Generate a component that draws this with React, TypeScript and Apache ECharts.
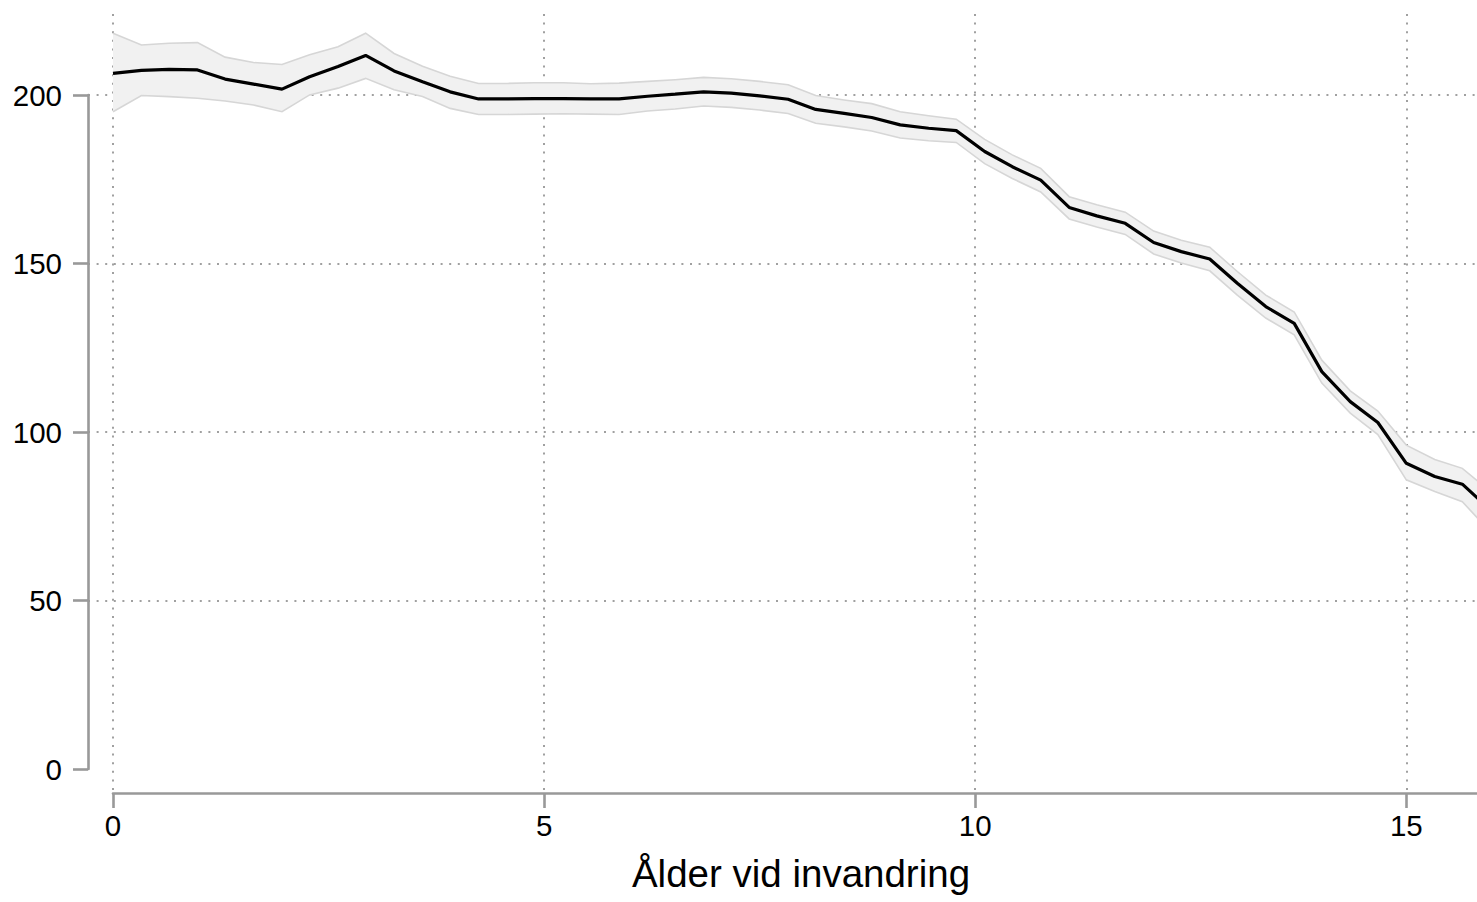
import React, { useEffect, useRef } from "react";
import * as echarts from "echarts";

// Age at immigration (years) for each estimate
const ages = [
  0, 0.33, 0.65, 0.98, 1.3, 1.63, 1.96, 2.28, 2.61, 2.93,
  3.26, 3.59, 3.91, 4.24, 4.57, 4.89, 5.22, 5.54, 5.87, 6.2,
  6.52, 6.85, 7.17, 7.5, 7.83, 8.15, 8.48, 8.8, 9.13, 9.46,
  9.78, 10.11, 10.43, 10.76, 11.09, 11.41, 11.74, 12.07, 12.39, 12.72,
  13.04, 13.37, 13.7, 14.02, 14.35, 14.67, 15.0, 15.33, 15.65, 15.98,
];

// Point estimate
const estimate = [
  206.4, 207.3, 207.6, 207.4, 204.7, 203.2, 201.7, 205.4, 208.4, 211.7,
  207.1, 203.9, 200.9, 198.8, 198.8, 198.9, 198.9, 198.8, 198.8, 199.6,
  200.2, 200.9, 200.5, 199.7, 198.7, 195.7, 194.5, 193.3, 191.1, 190.1,
  189.4, 183.2, 178.7, 174.7, 166.6, 164.1, 161.9, 156.2, 153.5, 151.3,
  144.1, 137.2, 132.2, 117.9, 109.0, 102.8, 90.7, 86.8, 84.5, 76.8,
];

// Upper confidence bound
const upperCI = [
  218.3, 214.8, 215.3, 215.5, 211.2, 209.6, 209.0, 211.9, 214.3, 218.3,
  212.3, 208.5, 205.5, 203.4, 203.4, 203.6, 203.6, 203.3, 203.5, 204.0,
  204.5, 205.2, 204.8, 204.0, 203.0, 199.8, 198.5, 197.4, 195.0, 193.8,
  192.8, 186.8, 182.2, 178.2, 169.8, 167.4, 165.2, 159.6, 156.9, 154.8,
  147.6, 140.6, 135.6, 121.3, 112.2, 106.2, 96.1, 91.8, 89.2, 82.2,
];

// Lower confidence bound
const lowerCI = [
  195.0, 199.8, 199.5, 199.0, 198.2, 197.0, 195.0, 200.0, 202.0, 204.9,
  201.5, 199.5, 196.0, 194.2, 194.2, 194.3, 194.4, 194.3, 194.2, 195.2,
  195.8, 196.7, 196.3, 195.5, 194.5, 191.6, 190.5, 189.3, 187.2, 186.4,
  185.9, 179.6, 175.2, 171.2, 163.2, 160.8, 158.6, 152.8, 150.1, 147.8,
  140.6, 133.8, 128.8, 114.5, 105.6, 99.2, 85.8, 82.3, 79.3, 70.2,
];

const xTitle = "Ålder vid invandring";

const FONT = "'Liberation Sans', Arial, Helvetica, sans-serif";
const AXIS_COLOR = "#999999";
const GRID_COLOR = "#a0a0a0";
const BAND_FILL = "#f1f1f1";
const BAND_EDGE = "#d6d6d6";

export default function App() {
  const ref = useRef<HTMLDivElement>(null);

  useEffect(() => {
    if (!ref.current) return;
    const chart = echarts.init(ref.current, null, { renderer: "svg" });

    const gridLine = {
      show: true,
      lineStyle: { color: GRID_COLOR, width: 2, type: [2, 6.6] as number[] },
    };

    const bandData = ages.map((a, i) => [a, lowerCI[i], upperCI[i]]);

    const renderBand = (params: any, api: any) => {
      if (params.dataIndex !== 0) return null;
      const upperPts = bandData.map((d) => api.coord([d[0], d[2]]));
      const lowerPts = bandData.map((d) => api.coord([d[0], d[1]]));
      const polygonPts = upperPts.concat(lowerPts.slice().reverse());
      return {
        type: "group",
        children: [
          {
            type: "polygon",
            shape: { points: polygonPts },
            style: { fill: BAND_FILL, stroke: "none" },
          },
          {
            type: "polyline",
            shape: { points: upperPts },
            style: { stroke: BAND_EDGE, lineWidth: 1.6, fill: "none" },
          },
          {
            type: "polyline",
            shape: { points: lowerPts },
            style: { stroke: BAND_EDGE, lineWidth: 1.6, fill: "none" },
          },
        ],
      };
    };

    const option: any = {
      animation: false,
      backgroundColor: "#ffffff",
      textStyle: { fontFamily: FONT },
      grid: [
        { left: 88, right: 0, top: 14, bottom: 109 },
        { left: 88, right: 0, top: 95, bottom: 133 },
        { left: 113, right: 0, top: 14, bottom: 109 },
      ],
      xAxis: [
        { gridIndex: 0, type: "value", min: -0.29, max: 15.82, show: false },
        { gridIndex: 1, type: "value", min: 0, max: 1, show: false },
        {
          gridIndex: 2,
          type: "value",
          min: 0,
          max: 15.82,
          interval: 5,
          axisLine: { show: true, onZero: false, lineStyle: { color: AXIS_COLOR, width: 2.6 } },
          axisTick: { show: true, length: 15, lineStyle: { color: AXIS_COLOR, width: 2.6 } },
          axisLabel: {
            show: true,
            margin: 17,
            color: "#000",
            fontSize: 29.5,
            fontFamily: FONT,
            showMaxLabel: false,
          },
          splitLine: { ...gridLine, showMinLine: true, showMaxLine: false },
          name: xTitle,
          nameLocation: "middle",
          nameGap: 61,
          nameTextStyle: { color: "#000", fontSize: 38.5, fontFamily: FONT, padding: [0, 0, 0, 12] },
        },
      ],
      yAxis: [
        { gridIndex: 0, type: "value", min: -7.12, max: 224, show: false },
        {
          gridIndex: 1,
          type: "value",
          min: 0,
          max: 200,
          interval: 50,
          axisLine: { show: true, onZero: false, lineStyle: { color: AXIS_COLOR, width: 2.6 } },
          axisTick: { show: true, length: 15, lineStyle: { color: AXIS_COLOR, width: 2.6 } },
          axisLabel: { show: true, margin: 26, color: "#000", fontSize: 29.5, fontFamily: FONT },
          splitLine: { ...gridLine, showMinLine: false, showMaxLine: true },
        },
        { gridIndex: 2, type: "value", min: 0, max: 1, show: false },
      ],
      series: [
        {
          name: "band",
          type: "custom",
          xAxisIndex: 0,
          yAxisIndex: 0,
          clip: true,
          silent: true,
          z: 2,
          renderItem: renderBand,
          encode: { x: 0, y: [1, 2] },
          data: bandData,
        },
        {
          name: "estimate",
          type: "line",
          xAxisIndex: 0,
          yAxisIndex: 0,
          symbol: "none",
          silent: true,
          z: 3,
          lineStyle: { color: "#000000", width: 3.2 },
          data: ages.map((a, i) => [a, estimate[i]]),
        },
      ],
    };

    chart.setOption(option);
    return () => chart.dispose();
  }, []);

  return (
    <div
      ref={ref}
      style={{ position: "absolute", left: 0, top: 0, width: 1477, height: 902, background: "#fff" }}
    />
  );
}
